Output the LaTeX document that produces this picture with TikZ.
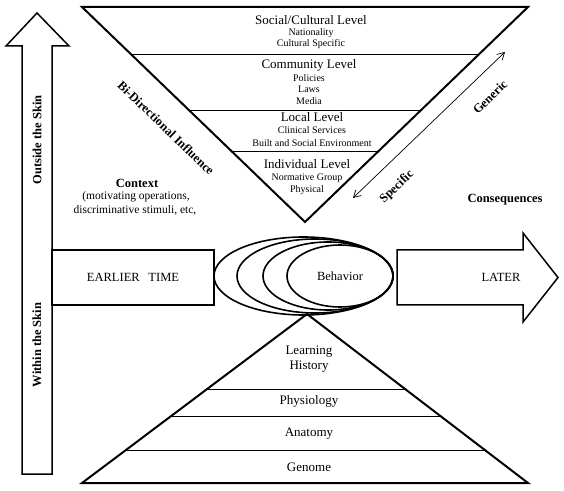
\documentclass[tikz,border=0pt]{standalone}
\usepackage{fontspec}
\setmainfont{Liberation Serif}
\usetikzlibrary{calc,arrows.meta}
\begin{document}
\begin{tikzpicture}[x=1pt,y=1pt,
  big/.style={inner sep=0pt, font=\fontsize{13}{15}\selectfont},
  sml/.style={inner sep=0pt, font=\fontsize{10}{12}\selectfont},
  bld/.style={inner sep=0pt, font=\fontsize{12.5}{14}\selectfont\bfseries},
  edge/.style={line width=2pt, line join=miter},
  divline/.style={line width=0.9pt},
  oval/.style={line width=1.6pt},
  bigarrow/.style={line width=1.5pt, line join=miter},
  barb/.style={line width=0.7pt, {Straight Barb[length=7pt,width=8pt]}-{Straight Barb[length=7pt,width=8pt]}}
]
\useasboundingbox (0,0) rectangle (564,490);

% ---- left vertical arrow
\draw[bigarrow] (22,16) -- (22,444) -- (6,444) -- (37,477) -- (69,444) -- (52,444) -- (52,16) -- cycle;
\node[bld, rotate=90] (outside) at (37,350) {Outside the Skin};
\node[bld, rotate=90] (within) at (37,145) {Within the Skin};

% ---- top inverted triangle
\coordinate (TL) at (82,483);
\coordinate (TR) at (528,483);
\coordinate (TA) at (305,268);
\draw[edge] (TL) -- (TR) -- (TA) -- cycle;
\draw[line width=2.8pt] (TL) -- (TR);
\draw[divline] ($(TL)!0.2186!(TA)$) -- ($(TR)!0.2186!(TA)$);
\draw[divline] ($(TL)!0.479!(TA)$) -- ($(TR)!0.479!(TA)$);
\draw[divline] ($(TL)!0.674!(TA)$) -- ($(TR)!0.674!(TA)$);

\node[big] (soc) at (311,470) {Social/Cultural Level};
\node[sml] (nat) at (311,457) {Nationality};
\node[sml] (cul) at (311,446) {Cultural Specific};
\node[big] (com) at (309,425) {Community Level};
\node[sml] (pol) at (309,412) {Policies};
\node[sml] (law) at (309,401) {Laws};
\node[sml] (med) at (309,389) {Media};
\node[big] (loc) at (312,373) {Local Level};
\node[sml] (cli) at (312,360) {Clinical Services};
\node[sml] (bui) at (312,347) {Built and Social Environment};
\node[big] (ind) at (307,326) {Individual Level};
\node[sml] (nor) at (307,312) {Normative Group};
\node[sml] (phy) at (307,300) {Physical};

\node[bld, rotate=-44] (bidir) at (166,362) {Bi-Directional Influence};

% ---- generic / specific arrow
\coordinate (spc) at (353,292);
\coordinate (gen) at (505,438);
\draw[barb] (spc) -- (gen);
\node[bld, rotate=44] (specific) at (397,303) {Specific};
\node[bld, rotate=44] (generic) at (490,393) {Generic};

% ---- context and consequences
\node[bld] (context) at (137,307) {Context};
\node[inner sep=0pt, font=\fontsize{11.5}{13}\selectfont] (mot) at (136,293) {(motivating operations,};
\node[inner sep=0pt, font=\fontsize{11.5}{13}\selectfont] (dis) at (135,280) {discriminative stimuli, etc,};
\node[bld] (conseq) at (505,290) {Consequences};

% ---- middle row
\node[draw, bigarrow, minimum width=162pt, minimum height=55pt, inner sep=0pt, font=\fontsize{12.5}{14}\selectfont] (early) at (133,212.5) {EARLIER\hspace{0.7em}TIME};
\draw[oval] (303.5,214) ellipse [x radius=89.5, y radius=39];
\draw[oval] (315,214) ellipse [x radius=78, y radius=37];
\draw[oval] (328,214) ellipse [x radius=65, y radius=34];
\draw[oval] (340,214) ellipse [x radius=53, y radius=31];
\node[inner sep=0pt, font=\fontsize{12.5}{14}\selectfont] (beh) at (340,214) {Behavior};
\draw[bigarrow] (397,185) -- (397,240) -- (523,240) -- (523,257) -- (558,212.5) -- (523,168) -- (523,185) -- cycle;
\node[inner sep=0pt, font=\fontsize{12.5}{14}\selectfont] (later) at (501,212.5) {LATER};

% ---- bottom pyramid
\coordinate (BL) at (82,7);
\coordinate (BR) at (528,7);
\coordinate (BA) at (307,176);
\draw[edge] (BL) -- (BR) -- (BA) -- cycle;
\draw[line width=2.8pt] (BL) -- (BR);
\draw[divline] ($(BA)!0.444!(BL)$) -- ($(BA)!0.444!(BR)$);
\draw[divline] ($(BA)!0.609!(BL)$) -- ($(BA)!0.609!(BR)$);
\draw[divline] ($(BA)!0.805!(BL)$) -- ($(BA)!0.805!(BR)$);
\node[big] (lea) at (309,138) {Learning};
\node[big] (his) at (309,123) {History};
\node[big] (phys) at (309,89) {Physiology};
\node[big] (ana) at (309,56) {Anatomy};
\node[big] (gen2) at (309,23) {Genome};
\end{tikzpicture}
\end{document}
